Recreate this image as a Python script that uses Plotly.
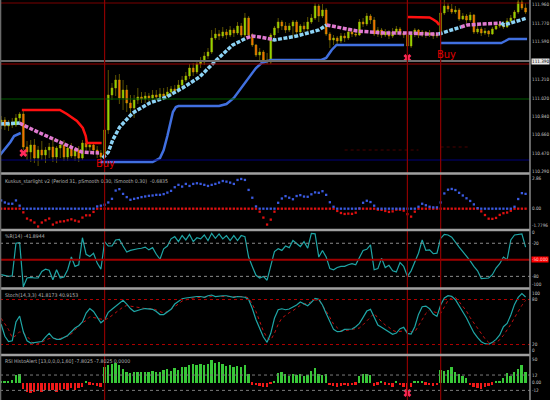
import numpy as np
import plotly.graph_objects as go

# ---- price bars ----
open_ = [110.76, 110.80, 110.74, 110.77, 110.75, 110.82, 110.86, 110.53, 110.48, 110.55,
         110.42, 110.50, 110.45, 110.50, 110.53, 110.43, 110.52, 110.55, 110.43, 110.52,
         110.44, 110.50, 110.42, 110.57, 110.53, 110.55, 110.50, 110.47, 110.43, 110.70,
         111.05, 111.12, 111.20, 111.02, 111.10, 110.97, 110.92, 111.00, 111.03, 111.01,
         111.04, 111.02, 111.05, 111.03, 111.06, 111.04, 111.08, 111.11, 111.09, 111.15,
         111.20, 111.24, 111.32, 111.28, 111.36, 111.38, 111.44, 111.48, 111.62, 111.66,
         111.64, 111.68, 111.65, 111.70, 111.67, 111.74, 111.65, 111.82, 111.65, 111.55,
         111.45, 111.48, 111.40, 111.38, 111.65, 111.72, 111.78, 111.74, 111.70, 111.74,
         111.78, 111.68, 111.74, 111.71, 111.78, 111.82, 111.94, 111.84, 111.90, 111.66,
         111.60, 111.62, 111.59, 111.64, 111.62, 111.68, 111.66, 111.65, 111.78, 111.76,
         111.84, 111.80, 111.66, 111.70, 111.65, 111.68, 111.64, 111.68, 111.71, 111.67,
         111.65, 111.54, 111.66, 111.70, 111.65, 111.68, 111.65, 111.67, 111.64, 111.65,
         111.87, 111.94, 111.91, 111.88, 111.90, 111.81, 111.84, 111.80, 111.85, 111.68,
         111.71, 111.67, 111.69, 111.66, 111.71, 111.74, 111.76, 111.73, 111.79, 111.82,
         111.88, 111.98, 111.92]
high = [110.84, 110.83, 110.80, 110.82, 110.86, 110.88, 110.90, 110.59, 110.60, 110.61,
        110.54, 110.59, 110.53, 110.57, 110.62, 110.54, 110.60, 110.60, 110.55, 110.57,
        110.52, 110.54, 110.60, 110.60, 110.58, 110.57, 110.54, 110.50, 110.72, 111.30,
        111.17, 111.25, 111.26, 111.20, 111.15, 111.05, 111.05, 111.12, 111.08, 111.08,
        111.07, 111.10, 111.10, 111.12, 111.12, 111.13, 111.14, 111.15, 111.20, 111.24,
        111.28, 111.36, 111.37, 111.40, 111.43, 111.48, 111.52, 111.70, 111.72, 111.70,
        111.73, 111.71, 111.74, 111.72, 111.78, 111.77, 111.87, 111.84, 111.67, 111.56,
        111.52, 111.50, 111.47, 111.67, 111.74, 111.82, 111.80, 111.78, 111.77, 111.80,
        111.80, 111.76, 111.78, 111.83, 111.86, 111.97, 111.96, 111.96, 111.92, 111.68,
        111.65, 111.64, 111.67, 111.67, 111.72, 111.71, 111.70, 111.81, 111.82, 111.87,
        111.86, 111.83, 111.73, 111.72, 111.71, 111.70, 111.72, 111.74, 111.73, 111.69,
        111.67, 111.69, 111.72, 111.71, 111.70, 111.69, 111.70, 111.68, 111.67, 111.89,
        112.00, 111.97, 111.96, 111.94, 111.92, 111.87, 111.86, 111.88, 111.86, 111.75,
        111.73, 111.72, 111.70, 111.73, 111.78, 111.78, 111.79, 111.82, 111.85, 111.90,
        112.02, 112.02, 111.97]
low = [110.71, 110.70, 110.69, 110.72, 110.73, 110.76, 110.50, 110.40, 110.38, 110.37,
       110.34, 110.40, 110.37, 110.42, 110.38, 110.37, 110.42, 110.39, 110.39, 110.42,
       110.39, 110.38, 110.40, 110.49, 110.48, 110.45, 110.42, 110.39, 110.40, 110.66,
       111.00, 111.04, 110.96, 110.90, 110.88, 110.85, 110.82, 110.96, 110.97, 110.97,
       110.98, 111.00, 111.00, 111.01, 111.01, 111.03, 111.05, 111.06, 111.07, 111.12,
       111.18, 111.21, 111.24, 111.26, 111.32, 111.35, 111.41, 111.46, 111.60, 111.60,
       111.62, 111.61, 111.63, 111.63, 111.65, 111.63, 111.63, 111.62, 111.53, 111.43,
       111.40, 111.37, 111.36, 111.36, 111.60, 111.67, 111.70, 111.67, 111.68, 111.63,
       111.66, 111.65, 111.68, 111.69, 111.76, 111.80, 111.78, 111.82, 111.64, 111.52,
       111.55, 111.54, 111.57, 111.58, 111.60, 111.63, 111.63, 111.64, 111.73, 111.74,
       111.76, 111.64, 111.63, 111.62, 111.63, 111.61, 111.62, 111.65, 111.64, 111.62,
       111.45, 111.52, 111.63, 111.62, 111.63, 111.62, 111.63, 111.61, 111.62, 111.63,
       111.85, 111.88, 111.86, 111.86, 111.79, 111.80, 111.77, 111.78, 111.66, 111.66,
       111.64, 111.65, 111.63, 111.65, 111.70, 111.72, 111.71, 111.72, 111.77, 111.80,
       111.86, 111.90, 111.86]
close = [110.80, 110.74, 110.77, 110.75, 110.82, 110.86, 110.53, 110.48, 110.55, 110.42,
         110.50, 110.45, 110.50, 110.53, 110.43, 110.52, 110.55, 110.43, 110.52, 110.44,
         110.50, 110.42, 110.57, 110.53, 110.55, 110.50, 110.47, 110.43, 110.70, 111.05,
         111.12, 111.20, 111.02, 111.10, 110.97, 110.92, 111.00, 111.03, 111.01, 111.04,
         111.02, 111.05, 111.03, 111.06, 111.04, 111.08, 111.11, 111.09, 111.15, 111.20,
         111.24, 111.32, 111.28, 111.36, 111.38, 111.44, 111.48, 111.62, 111.66, 111.64,
         111.68, 111.65, 111.70, 111.67, 111.74, 111.65, 111.82, 111.65, 111.55, 111.45,
         111.48, 111.40, 111.38, 111.65, 111.72, 111.78, 111.74, 111.70, 111.74, 111.78,
         111.68, 111.74, 111.71, 111.78, 111.82, 111.94, 111.84, 111.90, 111.66, 111.60,
         111.62, 111.59, 111.64, 111.62, 111.68, 111.66, 111.65, 111.78, 111.76, 111.84,
         111.80, 111.66, 111.70, 111.65, 111.68, 111.64, 111.68, 111.71, 111.67, 111.65,
         111.54, 111.66, 111.70, 111.65, 111.68, 111.65, 111.67, 111.64, 111.65, 111.87,
         111.94, 111.91, 111.88, 111.90, 111.81, 111.84, 111.80, 111.85, 111.68, 111.71,
         111.67, 111.69, 111.66, 111.71, 111.74, 111.76, 111.73, 111.79, 111.82, 111.88,
         111.98, 111.92, 111.88]

# trailing stop lines (bar position, price); None breaks the line
trail_x = [-0.3, 2.5, 3.5, 4.5, 5.3, None,
           26.7, 41, 43, 44, 45, 45.8, 46.5, 47.3, 48, 59, 61, 63, 65, 67, 69, 70.5, 73,
           86.7, 88, 89.5, 90.8, 109.1, None,
           119.1, 135.4, 136.5, 137.5, 142.4]
trail_y = [110.45, 110.58, 110.64, 110.66, 110.67, None,
           110.38, 110.38, 110.42, 110.50, 110.64, 110.78, 110.88, 110.93, 110.94, 110.94,
           110.96, 111.02, 111.12, 111.22, 111.32, 111.37, 111.40,
           111.40, 111.42, 111.50, 111.55, 111.55, None,
           111.57, 111.57, 111.59, 111.61, 111.61]
stop_x = [5.6, 15.9, 17.8, 20.5, 22.1, 22.9, 23.2, 27.2, None,
          109.9, 115, 116, 117, 118, 118.6]
stop_y = [110.90, 110.90, 110.86, 110.79, 110.72, 110.64, 110.57, 110.57, None,
          111.83, 111.83, 111.825, 111.805, 111.78, 111.75]

# two-colour moving average (rising part light blue, falling part pink)
ma_up_x = [-0.3, 5, None,
           27.5, 29, 30.2, 32.1, 35.6, 40.2, 44.8, 49.1, 53.7, 58.3, 62.7, 66.4, None,
           73.5, 74, 80, 86, 88.1, None,
           118.5, 119.4, 124.5, None,
           135.4, 136.2, 142.4]
ma_up_y = [110.76, 110.77, None,
           110.42, 110.48, 110.60, 110.73, 110.87, 110.97, 111.03, 111.12, 111.23, 111.40,
           111.55, 111.62, None,
           111.605, 111.60, 111.64, 111.70, 111.75, None,
           111.66, 111.67, 111.73, None,
           111.77, 111.75, 111.82]
ma_dn_x = [5, 5.9, 10.5, 15.9, 21.8, 26.5, None,
           66.4, 68, 70, 72.7, 73.5, None,
           88.1, 89.4, 96.4, 103.7, 110, 115, 118.5, None,
           124.5, 126.2, 130, 135.4]
ma_dn_y = [110.77, 110.75, 110.67, 110.58, 110.48, 110.47, None,
           111.62, 111.64, 111.63, 111.61, 111.605, None,
           111.75, 111.74, 111.69, 111.67, 111.67, 111.66, 111.66, None,
           111.73, 111.75, 111.76, 111.77]

# horizontal levels drawn on the price window
lvl_prices = [111.97, 111.39, 111.36, 111.01, 110.40]
lvl_colors = ["#7a0000", "#6e6e6e", "#a00000", "#005a00", "#00007a"]
signal_bars = [28, 110, 119]

price_ticks = [111.96, 111.77, 111.59, 111.21, 111.02, 110.84, 110.66, 110.47, 110.29]

# ---- indicators ----
kuskus = [0.77, 0.58, 0.46, 0.46, 0.77, 0.28, -0.34, -0.92, -1.08, -1.29,
          -1.66, -1.29, -1.08, -0.92, -1.48, -1.29, -1.20, -1.17, -1.08, -0.99,
          -1.11, -1.20, -0.83, -0.62, -0.62, -0.30, 0.21, 0.28, 0.37, 0.58,
          0.92, 1.69, 1.82, 1.38, 1.08, 0.83, 0.92, 0.99, 1.08, 1.14,
          1.20, 1.23, 1.29, 1.29, 1.36, 1.50, 1.66, 2.00, 2.22, 2.06,
          2.31, 2.12, 2.31, 2.37, 2.31, 2.22, 2.12, 2.22, 2.31, 2.43,
          2.58, 2.52, 2.43, 2.31, 2.68, 2.77, 2.68, 1.75, 1.02, 0.21,
          -0.28, -0.83, -1.48, -1.02, -0.28, 0.55, 0.95, 1.17, 1.02, 0.88,
          1.18, 1.26, 1.13, 1.11, 1.34, 1.52, 1.48, 1.63, 1.29, 0.60,
          0.18, -0.21, -0.40, -0.49, -0.46, -0.48, -0.37, 0.02, 0.55, 0.74,
          0.62, 0.28, -0.09, -0.11, -0.21, -0.30, -0.25, -0.09, -0.09, -0.18,
          -0.51, -0.74, -0.28, 0.18, 0.46, 0.32, 0.18, 0.12, 0.12, 0.58,
          1.42, 1.77, 1.84, 1.74, 1.48, 1.23, 0.97, 0.72, 0.40, 0.05,
          -0.25, -0.59, -0.93, -0.95, -0.86, -0.58, -0.42, -0.36, -0.19, 0.18,
          0.90, 1.45, 1.38]

wpr = [-77, -79, -80, -79, -20, -19, -99, -83, -82, -83,
       -83, -71, -67, -69, -86, -68, -83, -81, -68, -45,
       -62, -59, -10, -40, -44, -38, -56, -67, -17, -25,
       -25, -14, -13, -25, -36, -33, -31, -30, -29, -27,
       -32, -28, -40, -49, -30, -25, -12, -8, -17, -6,
       -14, -4, -17, -10, -12, -5, -15, -2, -11, -3,
       -12, -6, -15, -6, -15, -6, -8, -45, -62, -78,
       -83, -80, -87, -60, -35, -30, -33, -25, -28, -15,
       -20, -26, -17, -29, -2, -3, -45, -33, -45, -66,
       -68, -64, -62, -62, -59, -57, -59, -45, -33, -31,
       -23, -68, -66, -47, -64, -60, -70, -72, -55, -62,
       -80, -70, -55, -38, -14, -33, -32, -39, -38, -11,
       -4, -5, -9, -19, -27, -35, -43, -52, -62, -70,
       -84, -83, -83, -77, -65, -57, -45, -50, -14, -5,
       -4, -3, -27]

stoch_main = [47, 31, 24, 25, 50, 58, 37, 25, 22, 23,
              23, 24, 30, 35, 29, 27, 27, 30, 32, 37,
              42, 45, 50, 62, 68, 64, 57, 49, 53, 63,
              67, 71, 75, 79, 74, 68, 64, 66, 67, 68,
              68, 67, 64, 60, 60, 63, 67, 74, 78, 81,
              82, 83, 84, 84, 84, 83, 85, 86, 84, 85,
              85, 85, 84, 83, 84, 84, 83, 80, 68, 53,
              42, 30, 23, 35, 55, 66.4, 67.7, 66.4, 67.3, 69.5,
              72.7, 76.7, 74, 71.8, 76.2, 81.5, 80.2, 72.7, 61.5, 50.9,
              40.2, 37.1, 37.5, 40.2, 40.2, 40.7, 43.8, 48.2, 56.2, 64.6,
              66.9, 57.1, 46, 42.9, 39.8, 36.2, 33.6, 35.3, 41.1, 42.9,
              34.9, 34, 43.8, 60.2, 70.4, 71.3, 67.8, 60.7, 57.5, 72.7,
              82, 85.1, 84.2, 79.8, 71.8, 63.8, 55.3, 45.5, 35.8, 29.1,
              23.8, 21.1, 20.2, 22.9, 26.9, 32.7, 43.8, 48.2, 59.3, 73.5,
              82.9, 87.8, 83.3]
stoch_signal = [55, 48, 40, 29, 32, 37, 35, 31, 25, 20,
                21, 23, 26, 28, 28, 28, 28, 30, 31, 34,
                40, 45, 49, 52, 57, 56, 55, 54, 53, 55,
                59, 63, 66, 70, 72, 71, 70, 69, 68, 68,
                68, 68, 66, 64, 62, 64, 67, 70, 74, 78,
                80, 81, 82, 83, 83, 83, 84, 84, 84, 84,
                84, 84, 85, 85, 84, 84, 84, 82, 74, 64,
                50, 38, 29, 26, 35, 46.9, 55.3, 59.3, 62.4, 65.1,
                68.2, 72.2, 74, 74.9, 77.1, 79.3, 79.3, 72.7, 64.6, 56.2,
                47.3, 42.4, 38, 38.4, 39.3, 39.8, 40.7, 42, 46.4, 51.8,
                57.1, 61.5, 55.3, 50, 46, 42.9, 38.9, 37.1, 37.1, 38,
                39.3, 37.1, 36.7, 45.1, 53.6, 61.5, 66.4, 63.8, 62.4, 61.5,
                70, 78.9, 82, 82.9, 77.1, 70.9, 64.6, 55.8, 48.7, 41.1,
                34.4, 27.8, 22.9, 22, 22.4, 26.4, 32.2, 38.9, 46.9, 55.8,
                64.2, 72.2, 78.9]

rsi_histo = [3, 3, 2, 4, 12, 14, -10, -14, -16, -15,
             -13, -14, -12, -13, -11, -15, -12, -10, -12, -9,
             -11, -8, -6, 3, -3, -4, -5, -6, 25, 28,
             30, 31, 28, 22, 16, 15, 16, 16, 17, 17,
             16, 18, 16, 17, 20, 21, 19, 23, 20, 24,
             25, 28, 29, 28, 30, 27, 29, 36, 31, 32,
             30, 26, 28, 25, 26, 25, 28, 14, -3, -4,
             -5, -7, -6, -2, 3, 15, 17, 13, 11, 14,
             12, 14, 11, 12, 18, 23, 14, 12, 13, -4,
             -5, -6, -5, -4, -5, -4, -3, 11, 13, 13,
             12, -5, -3, 2, -3, -4, -6, 2, -4, -7,
             -11, -6, 3, 3, 2, -3, -4, -5, -4, 20,
             19, 20, 24, 17, 14, 10, 8, -4, -6, -8,
             -10, -7, -5, -3, 2, 3, 7, 15, 10, 17,
             22, 28, 16]

idx = np.arange(len(close))
kus = np.array(kuskus)
teal = "#1fa6a6"
narrow = "Liberation Sans Narrow, DejaVu Sans Condensed, Liberation Sans, sans-serif"
label_font = dict(family=narrow, size=4.6, color="#c8c8c8")
title_font = dict(family=narrow, size=5.2, color="#b4b4b4")
XR = 0.9636  # right edge of the chart windows (paper)
XL = XR + 0.002  # left edge of the right-hand labels

fig = go.Figure()

# price window
fig.add_trace(go.Scatter(x=ma_dn_x, y=ma_dn_y, mode="lines", yaxis="y",
                         line=dict(color="#e07ad0", width=3.5, dash="4px,1.5px")))
fig.add_trace(go.Scatter(x=ma_up_x, y=ma_up_y, mode="lines", yaxis="y",
                         line=dict(color="#8dd3f5", width=3.5, dash="4px,1.5px")))
fig.add_trace(go.Candlestick(x=idx, open=open_, high=high, low=low, close=close, yaxis="y",
                             whiskerwidth=0,
                             increasing=dict(line=dict(color="#b8a400", width=0.5), fillcolor="#86e000"),
                             decreasing=dict(line=dict(color="#b8a400", width=0.5), fillcolor="#ff6200")))
fig.add_trace(go.Scatter(x=trail_x, y=trail_y, mode="lines", yaxis="y",
                         line=dict(color="#4170e0", width=2.5)))
fig.add_trace(go.Scatter(x=stop_x, y=stop_y, mode="lines", yaxis="y",
                         line=dict(color="#ff1010", width=2.5)))
fig.add_trace(go.Scatter(x=[6, 110], y=[110.47, 111.42], mode="markers", yaxis="y",
                         marker=dict(symbol="x", size=7, color="#ff2a5a", line=dict(width=0))))

# Kuskus window
fig.add_trace(go.Scatter(x=idx, y=np.where(kus < 0, kus, 0), mode="markers", yaxis="y2",
                         marker=dict(symbol="square", size=2.3, color="#e01010")))
fig.add_trace(go.Scatter(x=idx, y=np.where(kus > 0, kus, 0), mode="markers", yaxis="y2",
                         marker=dict(symbol="square", size=2.3, color="#3a5ae0")))

# %R window
fig.add_trace(go.Scatter(x=idx, y=wpr, mode="lines", yaxis="y3", line=dict(color=teal, width=1.2)))

# Stochastic window
fig.add_trace(go.Scatter(x=idx, y=stoch_signal, mode="lines", yaxis="y4",
                         line=dict(color="#c01010", width=1, dash="dot")))
fig.add_trace(go.Scatter(x=idx, y=stoch_main, mode="lines", yaxis="y4", line=dict(color=teal, width=1.2)))

# RSI histogram window
fig.add_trace(go.Bar(x=idx, y=rsi_histo, yaxis="y5", width=0.5,
                     marker=dict(color=["#38c838" if v > 0 else "#f01818" for v in rsi_histo], line=dict(width=0))))
fig.add_trace(go.Scatter(x=[110], y=[-16], mode="markers", yaxis="y5",
                         marker=dict(symbol="x", size=7, color="#ff2a5a", line=dict(width=0))))

shapes = []
for p, c in zip(lvl_prices, lvl_colors):
    shapes.append(dict(type="line", xref="paper", yref="y", x0=0, x1=XR, y0=p, y1=p,
                       line=dict(color=c, width=2 if c == "#6e6e6e" else 1.2)))
# faint dashes in the price window
shapes.append(dict(type="line", xref="x", yref="y", x0=93, x1=113, y0=110.50, y1=110.50,
                   line=dict(color="#4a0000", width=1, dash="dot")))
shapes.append(dict(type="line", xref="x", yref="y", x0=119, x1=127, y0=110.53, y1=110.53,
                   line=dict(color="#4a0000", width=1, dash="dot")))
# indicator levels
for yv in [-20, -80]:
    shapes.append(dict(type="line", xref="paper", yref="y3", x0=0, x1=XR, y0=yv, y1=yv,
                       line=dict(color="#8a8a8a", width=1, dash="dot")))
shapes.append(dict(type="line", xref="paper", yref="y3", x0=0, x1=XR, y0=-50, y1=-50,
                   line=dict(color="#a00000", width=2)))
for yv in [80, 20]:
    shapes.append(dict(type="line", xref="paper", yref="y4", x0=0, x1=XR, y0=yv, y1=yv,
                       line=dict(color="#b00000", width=1, dash="dot")))
for yv in [12, -12]:
    shapes.append(dict(type="line", xref="paper", yref="y5", x0=0, x1=XR, y0=yv, y1=yv,
                       line=dict(color="#7a7a7a", width=1, dash="dot")))
# vertical signal lines through every window
for b in signal_bars:
    shapes.append(dict(type="line", xref="x", yref="paper", x0=b, x1=b, y0=0, y1=1,
                       line=dict(color="#8b0000", width=1.2)))
# window separators and frame
for yp in [0.5663, 0.425, 0.2787, 0.1125]:
    shapes.append(dict(type="line", xref="paper", yref="paper", x0=0, x1=XR, y0=yp, y1=yp,
                       line=dict(color="#a0a0a0", width=2.5)))
shapes.append(dict(type="line", xref="paper", yref="paper", x0=XR, x1=XR, y0=0, y1=1,
                   line=dict(color="#8c8c8c", width=1.5)))
shapes.append(dict(type="line", xref="paper", yref="paper", x0=0.001, x1=0.001, y0=0, y1=1,
                   line=dict(color="#6a6a6a", width=1.5)))

annotations = [
    dict(text="Kuskus_starlight v2 (Period 31, pSmooth 0.30, iSmooth 0.30)  -0.6835",
         x=0.005, y=0.5475, yanchor="middle"),
    dict(text="%R(14) -41.8944", x=0.005, y=0.41, yanchor="middle"),
    dict(text="Stoch(14,3,3) 41.8173 40.9153", x=0.005, y=0.2635, yanchor="middle"),
    dict(text="RSI HistoAlert [13,0,0,0,1,60] -7.8025 -7.8025 0.0000", x=0.005, y=0.0975,
         yanchor="middle"),
]
for a in annotations:
    a.update(xref="paper", yref="paper", xanchor="left", showarrow=False, font=title_font)

# right-hand scale labels (MetaTrader style, left aligned next to the frame)
scale_labels = [("y", v, "%.3f" % v) for v in price_ticks]
scale_labels += [("y2", 2.86, "2.86"), ("y2", 0, "0.00"),
                 ("y3", 0, "0"), ("y3", -20, "-20"), ("y3", -80, "-80"),
                 ("y4", 80, "80"), ("y4", 20, "20"),
                 ("y5", 12, "12"), ("y5", 0, "0.00"), ("y5", -12, "-12")]
for yr, v, txt in scale_labels:
    annotations.append(dict(text=txt, x=XL, y=v, xref="paper", yref=yr, xanchor="left",
                            yanchor="middle", showarrow=False, font=label_font, borderpad=0))
# labels clamped to the window edges
edge_labels = [("-1.7796", 0.435), ("-100", 0.29), ("100", 0.2675), ("0", 0.125), ("50", 0.1025)]
for txt, yp in edge_labels:
    annotations.append(dict(text=txt, x=XL, y=yp, xref="paper", yref="paper", borderpad=0,
                            xanchor="left", yanchor="middle", showarrow=False, font=label_font))
annotations += [
    dict(text="Buy", x=28.2, y=110.365, xref="x", yref="y", showarrow=False,
         font=dict(family=narrow, size=11, color="#e00000")),
    dict(text="Buy", x=120.5, y=111.46, xref="x", yref="y", showarrow=False,
         font=dict(family=narrow, size=11, color="#e00000")),
    dict(text="111.390", x=XL, y=111.39, xref="paper", yref="y", xanchor="left",
         showarrow=False, bgcolor="#e8e8e8", borderpad=0,
         font=dict(family=narrow, size=4.6, color="#000000")),
    dict(text="-50.000", x=XL, y=-50, xref="paper", yref="y3", xanchor="left",
         showarrow=False, bgcolor="#ff0000", borderpad=0,
         font=dict(family=narrow, size=4.6, color="#ffd0d0")),
]

axis_common = dict(anchor="x", side="right", showgrid=False, zeroline=False, showline=False,
                   showticklabels=False, ticks="", fixedrange=True, automargin=False)

fig.update_layout(
    width=550, height=400,
    margin=dict(l=0, r=0, t=0, b=0),
    paper_bgcolor="#000000", plot_bgcolor="#000000",
    showlegend=False, bargap=0,
    xaxis=dict(domain=[0, XR], range=[-0.32, 143.19], showgrid=False, zeroline=False,
               showticklabels=False, showline=False, ticks="", rangeslider=dict(visible=False),
               fixedrange=True, automargin=False),
    yaxis=dict(domain=[0.57, 1.0], range=[110.28, 112.0], **axis_common),
    yaxis2=dict(domain=[0.43, 0.5625], range=[-1.80, 3.14], **axis_common),
    yaxis3=dict(domain=[0.28, 0.4225], range=[-101.1, 2.2], **axis_common),
    yaxis4=dict(domain=[0.1175, 0.275], range=[8.7, 92.7], **axis_common),
    yaxis5=dict(domain=[0, 0.1075], range=[-27, 40.2], **axis_common),
    shapes=shapes,
    annotations=annotations,
)

fig.write_html("out.html", config={"displayModeBar": False},
               post_script="document.body.style.margin='0';document.body.style.overflow='hidden';")
